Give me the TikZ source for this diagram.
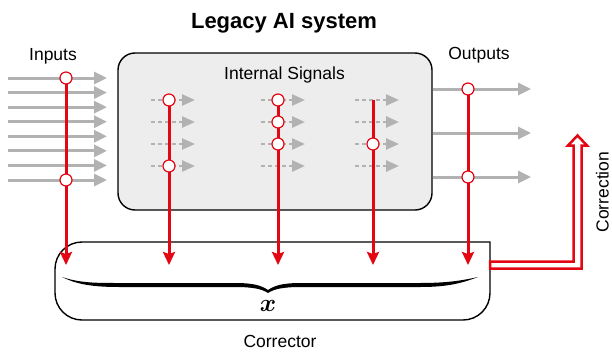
\documentclass[tikz,border=0pt]{standalone}
\usepackage{fontspec}
\setmainfont{Liberation Sans}
\usepackage{bm}
\usetikzlibrary{arrows.meta}
\definecolor{cred}{RGB}{227,6,19}
\definecolor{cgray}{RGB}{178,178,178}
\definecolor{boxfill}{RGB}{237,237,237}
\begin{document}
\begin{tikzpicture}[x=1pt,y=-1pt,
  garrow/.style={cgray,line width=3pt,-{Triangle[length=13pt,width=12pt]}},
  darrow/.style={cgray,line width=2.5pt,dash pattern=on 4pt off 3pt,-{Triangle[length=13pt,width=11pt]}},
  rline/.style={cred,line width=3pt},
  rarrow/.style={rline,-{Stealth[length=13pt,width=12pt,inset=2pt]}},
  tap/.style={circle,draw=cred,fill=white,line width=1.2pt,minimum size=12pt,inner sep=0pt},
  lbl/.style={font=\fontsize{17.5}{20}\selectfont,inner sep=0pt,anchor=base},
  frame/.style={draw=black,line width=1.4pt}]
\useasboundingbox (0,0) rectangle (612,356);

% title and labels
\node[font=\bfseries\fontsize{22}{26}\selectfont,inner sep=0pt,anchor=base] (title) at (284,28) {Legacy AI system};
\node[lbl] (inlbl) at (53,60.5) {Inputs};
\node[lbl] (outlbl) at (479,59) {Outputs};
\node[lbl] (corrlbl) at (280,347) {Corrector};
\node[lbl,rotate=90] (corrarrowlbl) at (608.5,192) {Correction};

% main box
\node[frame,fill=boxfill,rounded corners=17pt,minimum width=314pt,minimum height=157pt,inner sep=0pt] (sys) at (275,131.5) {};
\node[lbl] (intlbl) at (284.5,79) {Internal Signals};

% corrector box
\coordinate (c1) at (490,242);
\coordinate (c2) at (490,320);
\coordinate (c3) at (55,320);
\coordinate (c4) at (55,242);
\draw[frame,line cap=rect,rounded corners=27pt] (c1) -- (c2) -- (c3) -- (c4) -- (c1);

% input arrows
\foreach \i in {0,...,7}{
  \coordinate (ins\i) at (8,78+\i*14.571);
  \coordinate (ine\i) at (107,78+\i*14.571);
  \draw[garrow] (ins\i) -- (ine\i);
}
% output arrows
\foreach \i/\y in {0/89,1/133,2/177}{
  \coordinate (outs\i) at (sys.east |- 0,\y);
  \coordinate (oute\i) at (531,\y);
  \draw[garrow] (outs\i) -- (oute\i);
}
% internal dashed arrows
\foreach \c/\x in {1/151,2/261,3/355}{
  \foreach \r/\y in {1/100,2/122,3/144,4/166}{
    \coordinate (ds\c\r) at (\x,\y);
    \coordinate (de\c\r) at (\x+44,\y);
    \draw[darrow] (ds\c\r) -- (de\c\r);
  }
}

% red probe lines
\coordinate (t1) at (66,78);
\coordinate (t2) at (169,100);
\coordinate (t3) at (278,100);
\coordinate (t4) at (373,100);
\coordinate (t5) at (468,89);
\foreach \k/\x in {1/66,2/169,3/278,4/373,5/468}{
  \coordinate (b\k) at (\x,265);
  \draw[rarrow] (t\k) -- (b\k);
}

% taps
\node[tap] (p1) at (66,78) {};
\node[tap] (p2) at (66,180) {};
\node[tap] (p3) at (169,100) {};
\node[tap] (p4) at (169,166) {};
\node[tap] (p5) at (278,100) {};
\node[tap] (p6) at (278,122) {};
\node[tap] (p7) at (278,144) {};
\node[tap] (p8) at (373,144) {};
\node[tap] (p9) at (468,89) {};
\node[tap] (p10) at (468,177) {};

% brace
\fill[black] (62,277) .. controls (80,283) and (95,283) .. (120,283) -- (235,283)
  .. controls (255,283) and (262,286) .. (268,290)
  .. controls (274,286) and (281,283) .. (301,283) -- (420,283)
  .. controls (445,283) and (460,281) .. (478,277)
  .. controls (460,284) and (445,287) .. (420,287) -- (301,287)
  .. controls (283,287) and (274,289) .. (268,293)
  .. controls (262,289) and (253,287) .. (235,287) -- (120,287)
  .. controls (95,287) and (78,285) .. (62,277) -- cycle;
\node[font=\fontsize{23}{26}\selectfont,inner sep=0pt] (xlbl) at (268,306) {$\bm{x}$};

% correction arrow
\draw[cred,fill=white,line width=2.5pt,miter limit=4]
  (490,261.5) -- (573.5,261.5) -- (573.5,145.5) -- (568,145.5) -- (577.5,135.5)
  -- (587,145.5) -- (581.5,145.5) -- (581.5,268.5) -- (490,268.5) -- cycle;
\end{tikzpicture}
\end{document}
